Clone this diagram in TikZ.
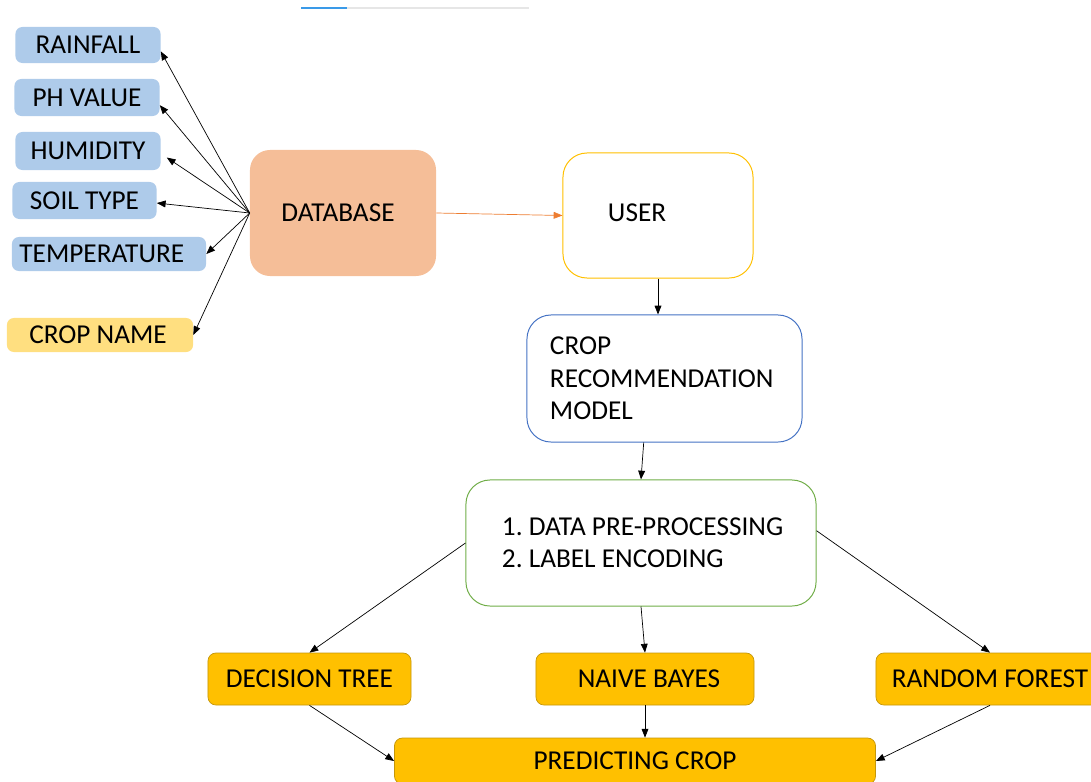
\documentclass[tikz,border=0pt]{standalone}
\usepackage{fontspec}
\setmainfont{Carlito}
\usetikzlibrary{arrows.meta}
\definecolor{featblue}{RGB}{174,203,234}
\definecolor{dbsalmon}{RGB}{245,190,152}
\definecolor{namegold}{RGB}{255,223,128}
\definecolor{algogold}{RGB}{255,192,0}
\definecolor{algoedge}{RGB}{196,150,10}
\definecolor{userline}{RGB}{255,192,0}
\definecolor{modelline}{RGB}{68,114,196}
\definecolor{prepline}{RGB}{112,173,71}
\definecolor{dbarrow}{RGB}{237,125,49}
\definecolor{barblue}{RGB}{58,154,232}
\definecolor{bargray}{RGB}{230,230,230}
\frenchspacing

\begin{document}
\begin{tikzpicture}[x=0.025cm, y=-0.025cm, >={Triangle[length=0.22cm,width=0.17cm]},
  every node/.style={inner sep=0pt, font=\fontsize{19.4}{23.1}\selectfont},
  feature/.style={fill=featblue, rounded corners=0.17cm},
  process/.style={draw, line width=0.7pt, rounded corners=0.6cm, fill=white, align=flush left},
  algo/.style={fill=algogold, draw=algoedge, line width=0.5pt, rounded corners=0.2cm, minimum height=1.3cm},
  link/.style={->, line width=0.5pt}]
  \useasboundingbox (0,0) rectangle (1091,782);
  \draw[bargray, line width=1.2pt] (347,8) -- (529,8);
  \draw[barblue, line width=1.2pt] (301,8) -- (347,8);
  \node[feature, minimum width=3.625cm, minimum height=0.9cm] (rain) at (88,45) {RAINFALL};
  \node[feature, minimum width=3.625cm, minimum height=0.925cm] (ph) at (87,97.5) {PH VALUE};
  \node[feature, minimum width=3.625cm, minimum height=0.95cm] (hum) at (88,151) {HUMIDITY};
  \node[feature, minimum width=3.6cm, minimum height=0.925cm] (soil) at (84.5,200.5) {SOIL TYPE};
  \node[feature, minimum width=4.85cm, minimum height=0.85cm] (temp) at (109,254) {TEMPERATURE\kern0.36cm};
  \node[feature, fill=namegold, minimum width=4.65cm, minimum height=0.85cm] (name) at (100,335) {CROP NAME\kern0.1cm};
  \node[fill=dbsalmon, rounded corners=0.5cm, minimum width=4.65cm, minimum height=3.15cm] (db) at (343,213) {DATABASE\kern0.25cm};
  \node[process, draw=userline, minimum width=4.75cm, minimum height=3.125cm, text width=4.75cm] (user) at (658,215.5) {\hspace*{1.125cm}\raisebox{0.16cm}{USER}};
  \node[process, draw=modelline, minimum width=6.875cm, minimum height=3.175cm, text width=6.875cm] (model) at (664.5,378.5) {\hspace*{0.575cm}CROP\\\hspace*{0.575cm}RECOMMENDATION\\\hspace*{0.575cm}MODEL};
  \node[process, draw=prepline, minimum width=8.75cm, minimum height=3.15cm, text width=8.75cm] (prep) at (641,543) {\hspace*{0.9cm}1. DATA PRE-PROCESSING\\\hspace*{0.9cm}2. LABEL ENCODING};
  \node[algo, minimum width=5.075cm] (dt) at (309.5,679) {DECISION TREE};
  \node[algo, minimum width=5.45cm] (nb) at (645,679) {\hspace{0.2cm}NAIVE BAYES};
  \node[algo, minimum width=5.7cm] (rf) at (990,679) {RANDOM FOREST};
  \node[algo, minimum width=12.025cm, minimum height=1.15cm] (pred) at (635,761) {PREDICTING CROP};
  \draw[link] (db.west) -- (rain.-5);
  \draw[link] (db.west) -- (ph.-6);
  \draw[link, shorten >=0.18cm] (db.west) -- (hum.-2);
  \draw[link] (db.west) -- (soil.-2);
  \draw[link] (db.west) -- (temp.east);
  \draw[link] (db.west) -- (name.east);
  \draw[link, dbarrow] (db.east) -- (user.west);
  \draw[link] (user.south) -- (user.south |- model.north);
  \draw[link] (model.-108) -- (prep.north);
  \draw[link] (prep.west) -- (dt.north);
  \draw[link] (prep.south) -- (nb.north);
  \draw[link] (prep.4) -- (rf.north);
  \draw[link] (dt.south) -- (pred.west);
  \draw[link] (nb.south) -- (nb.south |- pred.north);
  \draw[link] (rf.south) -- (pred.east);
\end{tikzpicture}
\end{document}
